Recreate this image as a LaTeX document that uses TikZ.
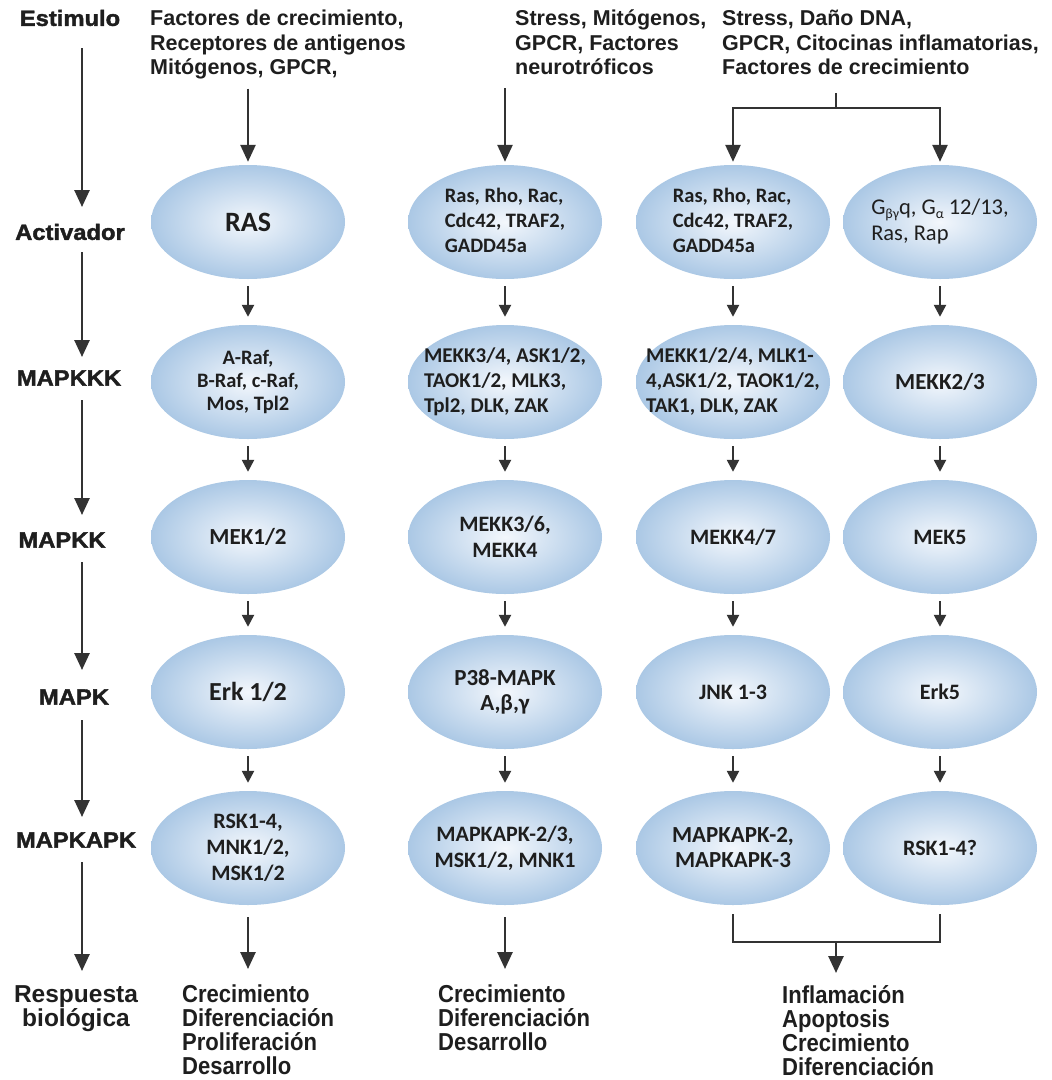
\documentclass[tikz,border=0pt]{standalone}
\usepackage{fontspec}
\usetikzlibrary{shapes.geometric,arrows.meta,calc}
\newfontfamily\labfont[FakeStretch=1.08,FakeBold=1.8]{Liberation Sans}
\newfontfamily\hdfont{Liberation Sans}
\newfontfamily\elfont{Carlito}
\newfontfamily\botfont[FakeStretch=0.9]{Liberation Sans}
\definecolor{ink}{HTML}{1E1E1E}
\definecolor{lineclr}{HTML}{333333}
\definecolor{elin}{HTML}{F3F7FC}
\definecolor{elout}{HTML}{ABC8E5}
\tikzset{
  lab/.style={font=\labfont\bfseries\fontsize{22}{24}\selectfont, text=ink, inner sep=0pt},
  resplab/.style={font=\hdfont\bfseries\fontsize{24.5}{24}\selectfont, text=ink, inner sep=0pt, align=center, anchor=north},
  hd/.style={font=\hdfont\bfseries\fontsize{21.5}{24.5}\selectfont, text=ink, align=left, anchor=north west, inner sep=0pt},
  bot/.style={font=\botfont\bfseries\fontsize{24.5}{24}\selectfont, text=ink, align=left, anchor=north west, inner sep=0pt},
  prot/.style={ellipse, minimum width=194pt, minimum height=114pt, inner xsep=-30pt, inner ysep=-25pt, align=center,
    inner color=elin, outer color=elout, text=ink, font=\elfont\bfseries\fontsize{22}{26}\selectfont},
  fsmall/.style={font=\elfont\bfseries\fontsize{20.5}{25}\selectfont},
  fmid/.style={font=\elfont\bfseries\fontsize{21}{25}\selectfont},
  fbig/.style={font=\elfont\bfseries\fontsize{23}{25}\selectfont},
  larr/.style={line width=2.6pt, -{Triangle[width=15pt,length=17pt]}, color=lineclr},
  sarr/.style={line width=2.4pt, -{Triangle[width=12pt,length=12pt]}, color=lineclr, shorten <=7pt, shorten >=8pt},
  brk/.style={line width=2.4pt, color=lineclr},
}
\begin{document}
\begin{tikzpicture}[x=1pt,y=-1pt]
\useasboundingbox (0,0) rectangle (1052,1080);
\fill[white] (0,0) rectangle (1052,1080);

% left labels
\node[lab] (estim) at (70,18) {Estimulo};
\node[lab] (activ) at (70,232) {Activador};
\node[lab] (mkkk) at (69,378) {MAPKKK};
\node[lab] (mkk) at (62,540) {MAPKK};
\node[lab] (mk) at (74,697) {MAPK};
\node[lab] (mkapk) at (76,840) {MAPKAPK};
\node[resplab] (resp) at (76,985) {Respuesta\\biológica};
\coordinate (ax) at (82,0);

\draw[larr] ($(estim.center -| ax)+(0,30)$) -- ($(activ.center -| ax)+(0,-25)$);
\draw[larr] ($(activ.center -| ax)+(0,20)$) -- ($(mkkk.center -| ax)+(0,-21)$);
\draw[larr] ($(mkkk.center -| ax)+(0,22)$) -- ($(mkk.center -| ax)+(0,-25)$);
\draw[larr] ($(mkk.center -| ax)+(0,22)$) -- ($(mk.center -| ax)+(0,-27)$);
\draw[larr] ($(mk.center -| ax)+(0,23)$) -- ($(mkapk.center -| ax)+(0,-23)$);
\draw[larr] ($(mkapk.center -| ax)+(0,22)$) -- ($(resp.north -| ax)+(0,-14)$);

% headers
\node[hd] (h1) at (150,10) {Factores de crecimiento,\\Receptores de antigenos\\Mitógenos, GPCR,};
\node[hd] (h2) at (515,10) {Stress, Mitógenos,\\GPCR, Factores\\neurotróficos};
\node[hd] (h3) at (722,10) {Stress, Daño DNA,\\GPCR, Citocinas inflamatorias,\\Factores de crecimiento};

% row 1 : Activador
\node[prot, font=\elfont\bfseries\fontsize{28}{30}\selectfont] (a1) at (248,222) {RAS};
\node[prot, fsmall] (a2) at (505,222) {\begin{tabular}{@{}l@{}}Ras, Rho, Rac,\\Cdc42, TRAF2,\\GADD45a\end{tabular}};
\node[prot, fsmall] (a3) at (733,222) {\begin{tabular}{@{}l@{}}Ras, Rho, Rac,\\Cdc42, TRAF2,\\GADD45a\end{tabular}};
\node[prot, font=\elfont\fontsize{22.5}{26}\selectfont] (a4) at (940,222) {\begin{tabular}{@{}l@{}}G\raisebox{-4pt}{\fontsize{14}{14}\selectfont βγ}q, G\raisebox{-4pt}{\fontsize{14}{14}\selectfont α} 12/13,\\Ras, Rap\end{tabular}};

% row 2 : MAPKKK
\node[prot, font=\elfont\bfseries\fontsize{20.5}{23}\selectfont] (b1) at (248,382) {A-Raf,\\B-Raf, c-Raf,\\Mos, Tpl2};
\node[prot, fmid] (b2) at (505,382) {\begin{tabular}{@{}l@{}}MEKK3/4, ASK1/2,\\TAOK1/2, MLK3,\\Tpl2, DLK, ZAK\end{tabular}};
\node[prot, fmid] (b3) at (733,382) {\begin{tabular}{@{}l@{}}MEKK1/2/4, MLK1-\\4,ASK1/2, TAOK1/2,\\TAK1, DLK, ZAK\end{tabular}};
\node[prot, fbig] (b4) at (940,382) {MEKK2/3};

% row 3 : MAPKK
\node[prot, fbig] (c1) at (248,537) {MEK1/2};
\node[prot] (c2) at (505,537) {MEKK3/6,\\MEKK4};
\node[prot] (c3) at (733,537) {MEKK4/7};
\node[prot] (c4) at (940,537) {MEK5};

% row 4 : MAPK
\node[prot, font=\elfont\bfseries\fontsize{26}{28}\selectfont] (d1) at (248,692) {Erk 1/2};
\node[prot, fbig] (d2) at (505,692) {P38-MAPK\\A,β,γ};
\node[prot] (d3) at (733,692) {JNK 1-3};
\node[prot] (d4) at (940,692) {Erk5};

% row 5 : MAPKAPK
\node[prot] (e1) at (248,848) {RSK1-4,\\MNK1/2,\\MSK1/2};
\node[prot] (e2) at (505,848) {MAPKAPK-2/3,\\MSK1/2, MNK1};
\node[prot, fbig] (e3) at (733,848) {MAPKAPK-2,\\MAPKAPK-3};
\node[prot] (e4) at (940,848) {RSK1-4?};

% responses
\node[bot] (o1) at (182,985) {Crecimiento\\Diferenciación\\Proliferación\\Desarrollo};
\node[bot] (o2) at (438,985) {Crecimiento\\Diferenciación\\Desarrollo};
\node[bot] (o3) at (782,985) {Inflamación\\Apoptosis\\Crecimiento\\Diferenciación};

% top connectors
\draw[larr, shorten <=9pt, shorten >=3pt] (h1.south -| a1) -- (a1.north);
\draw[larr, shorten <=13pt, shorten >=3pt] (h2.south -| a2) -- (a2.north);
\coordinate (br) at (836,108);
\draw[brk] ($(h3.south -| br)+(0,18)$) -- (br);
\draw[larr, shorten >=3pt] (br) -| (a3.north);
\draw[larr, shorten >=3pt] (br) -| (a4.north);

% column arrows
\foreach \c in {1,2,3,4}{
  \draw[sarr] (a\c.south) -- (b\c.north);
  \draw[sarr] (b\c.south) -- (c\c.north);
  \draw[sarr] (c\c.south) -- (d\c.north);
  \draw[sarr] (d\c.south) -- (e\c.north);
}

% bottom connectors
\draw[larr, shorten <=12pt, shorten >=16pt] (e1.south) -- (o1.north -| e1);
\draw[larr, shorten <=12pt, shorten >=16pt] (e2.south) -- (o2.north -| e2);
\coordinate (bb) at (836,942);
\draw[brk] ($(e3.south)+(0,9)$) |- (bb) -| ($(e4.south)+(0,9)$);
\draw[larr] (bb) -- ($(o3.north -| bb)+(0,-12)$);
\end{tikzpicture}
\end{document}
